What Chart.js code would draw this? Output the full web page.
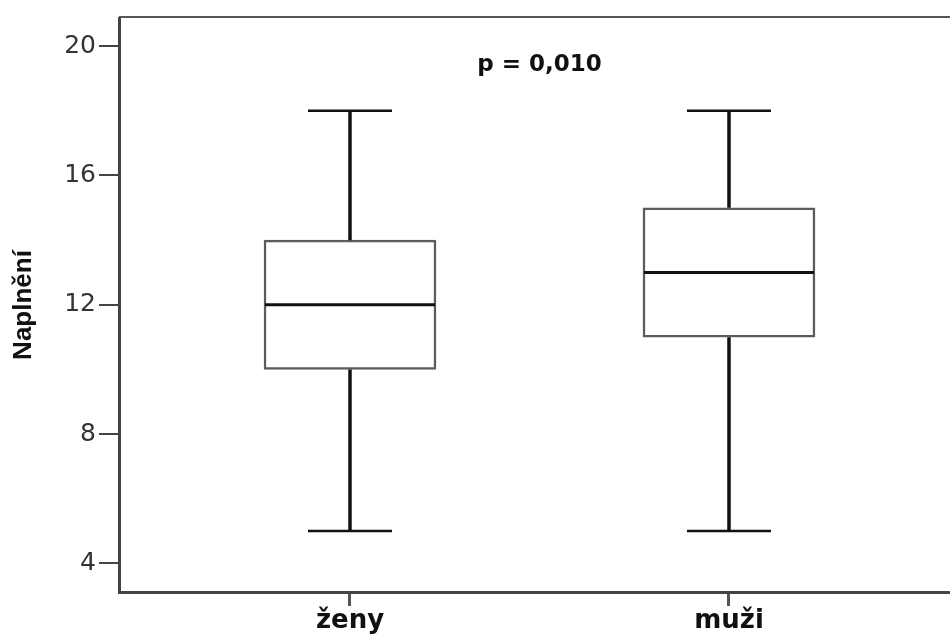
<!DOCTYPE html>
<html>
<head>
<meta charset="utf-8">
<script src="https://cdn.jsdelivr.net/npm/chart.js@4.4.0/dist/chart.umd.min.js"></script>
<style>
html, body { margin: 0; padding: 0; background: #fff; overflow: hidden; }
#wrap { position: absolute; left: 0; top: 0; width: 1000px; height: 636px; }
</style>
</head>
<body>
<div id="wrap"><canvas id="c"></canvas></div>
<script>
const groups = ['ženy', 'muži'];
const groupPos = [1, 2];
const whiskerLow = [5, 5];
const q1 = [10, 11];
const median = [12, 13];
const q3 = [14, 15];
const whiskerHigh = [18, 18];
const yTicks = [4, 8, 12, 16, 20];
const pText = 'p = 0,010';

// boxes are floating bars, the rest is drawn on top with the scales
const boxParts = {
    id: 'boxParts',
    afterDatasetsDraw(chart) {
        const ctx = chart.ctx;
        const xs = chart.scales.x, ys = chart.scales.y;
        ctx.save();
        ctx.strokeStyle = '#111';
        for (let i = 0; i < groups.length; i++) {
            const x = xs.getPixelForValue(groupPos[i]);
            ctx.lineWidth = 3.5;
            ctx.beginPath();
            ctx.moveTo(x, ys.getPixelForValue(whiskerHigh[i]));
            ctx.lineTo(x, ys.getPixelForValue(q3[i]));
            ctx.moveTo(x, ys.getPixelForValue(q1[i]));
            ctx.lineTo(x, ys.getPixelForValue(whiskerLow[i]));
            ctx.stroke();
            ctx.lineWidth = 2.5;
            ctx.beginPath();
            ctx.moveTo(x - 42, ys.getPixelForValue(whiskerHigh[i]));
            ctx.lineTo(x + 42, ys.getPixelForValue(whiskerHigh[i]));
            ctx.moveTo(x - 42, ys.getPixelForValue(whiskerLow[i]));
            ctx.lineTo(x + 42, ys.getPixelForValue(whiskerLow[i]));
            ctx.stroke();
            ctx.lineWidth = 3;
            ctx.beginPath();
            ctx.moveTo(x - 85, ys.getPixelForValue(median[i]));
            ctx.lineTo(x + 85, ys.getPixelForValue(median[i]));
            ctx.stroke();
        }
        // top frame line
        const a = chart.chartArea;
        ctx.strokeStyle = '#555';
        ctx.lineWidth = 2;
        ctx.beginPath();
        ctx.moveTo(a.left, a.top - 1);
        ctx.lineTo(a.right, a.top - 1);
        ctx.stroke();
        // p value
        ctx.fillStyle = '#111';
        ctx.font = 'bold 23px "DejaVu Sans"';
        ctx.textAlign = 'center';
        ctx.textBaseline = 'middle';
        ctx.fillText(pText, xs.getPixelForValue(1.5), ys.getPixelForValue(19.42));
        ctx.restore();
    }
};

new Chart(document.getElementById('c'), {
    type: 'bar',
    data: {
        datasets: [{
            data: groupPos.map((p, i) => ({ x: p, y: [q1[i], q3[i]] })),
            backgroundColor: '#fff',
            borderColor: '#5c5c5c',
            borderWidth: 2.5,
            borderSkipped: false,
            barThickness: 172
        }]
    },
    options: {
        responsive: true,
        maintainAspectRatio: false,
        animation: false,
        layout: { padding: { left: 0, top: 13, right: 10, bottom: 0 } },
        plugins: { legend: { display: false }, tooltip: { enabled: false } },
        scales: {
            x: {
                type: 'linear',
                offset: false,
                min: 0.3905,
                max: 2.6887,
                afterFit(s) { s.height = 44; },
                afterBuildTicks(s) { s.ticks = groupPos.map(v => ({ value: v })); },
                grid: { offset: false, drawOnChartArea: false, tickLength: 14, color: '#555', lineWidth: 3 },
                border: { display: true, color: '#444', width: 3 },
                ticks: {
                    padding: 0,
                    color: '#111',
                    font: { family: 'DejaVu Sans', size: 26, weight: 'bold' },
                    callback: (v) => groups[groupPos.indexOf(v)] || ''
                }
            },
            y: {
                min: 3.117,
                max: 20.871,
                afterFit(s) { s.width = 119; },
                afterBuildTicks(s) { s.ticks = yTicks.map(v => ({ value: v })); },
                grid: { drawOnChartArea: false, tickLength: 20, color: '#444', lineWidth: 2 },
                border: { display: true, color: '#444', width: 3 },
                ticks: {
                    padding: 3,
                    color: '#333',
                    font: { family: 'DejaVu Sans', size: 25 }
                },
                title: {
                    display: true,
                    text: 'Naplnění',
                    color: '#111',
                    padding: { top: 8, bottom: 0 },
                    font: { family: '"Liberation Sans Narrow", "Liberation Sans"', size: 26, weight: 'bold' }
                }
            }
        }
    },
    plugins: [boxParts]
});
</script>
</body>
</html>
